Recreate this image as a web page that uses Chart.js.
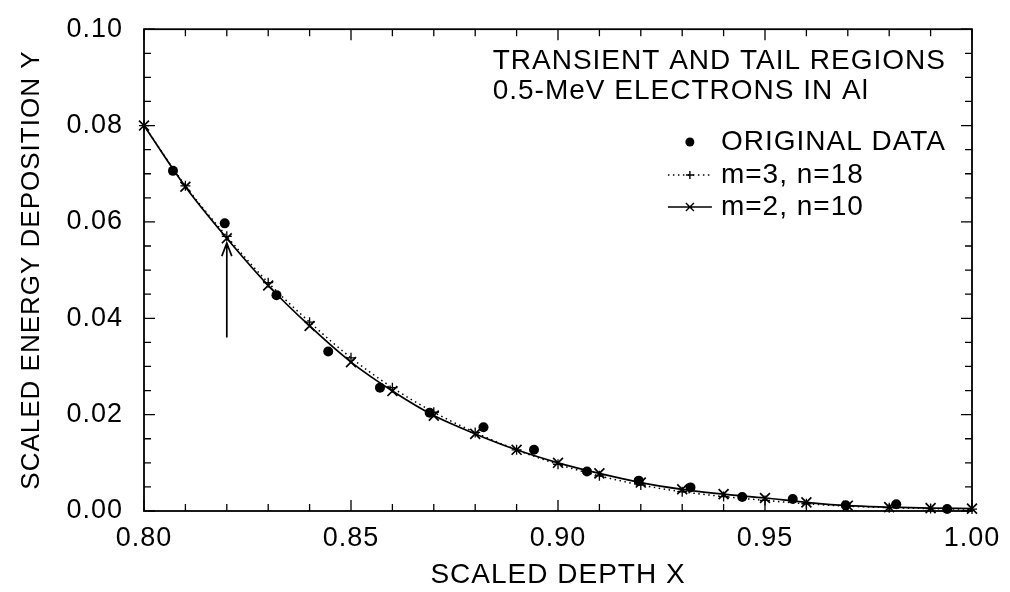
<!DOCTYPE html>
<html><head><meta charset="utf-8">
<script src="https://cdn.jsdelivr.net/npm/chart.js@4/dist/chart.umd.min.js"></script>
<style>html,body{margin:0;padding:0;background:#fff;overflow:hidden}</style>
</head><body>
<canvas id="c" width="1010" height="592"></canvas>
<script>
const FONT = '"Liberation Sans", Arial, Helvetica, sans-serif';

// ---- data ----
const fitX = [0.80,0.81,0.82,0.83,0.84,0.85,0.86,0.87,0.88,0.89,0.90,0.91,0.92,0.93,0.94,0.95,0.96,0.97,0.98,0.99,1.00];
const fitM2N10 = [0.0800,0.0673,0.0566,0.0468,0.0384,0.0309,0.0249,0.0198,0.0160,0.0127,0.0100,0.0078,0.0059,0.0045,0.0035,0.0027,0.0018,0.0011,0.0008,0.0006,0.0005];
const fitM3N18 = [0.0800,0.0675,0.0570,0.0474,0.0392,0.0318,0.0256,0.0205,0.0163,0.0127,0.0097,0.0073,0.0054,0.0040,0.0030,0.0022,0.0015,0.0010,0.0007,0.0005,0.0004];
const origX = [0.807,0.8195,0.832,0.8445,0.857,0.869,0.882,0.8942,0.907,0.9195,0.932,0.9445,0.9567,0.9695,0.9817,0.994];
const origY = [0.0706,0.0597,0.0448,0.0331,0.0256,0.0204,0.0174,0.0127,0.0082,0.0063,0.0049,0.0029,0.0025,0.0012,0.0014,0.0004];

const xTickValues = [0.80,0.85,0.90,0.95,1.00];
const xTickLabels = ['0.80','0.85','0.90','0.95','1.00'];
const yTickValues = [0.00,0.02,0.04,0.06,0.08,0.10];
const yTickLabels = ['0.00','0.02','0.04','0.06','0.08','0.10'];

const seriesNames = ['ORIGINAL DATA','m=3, n=18','m=2, n=10'];
const noteLines = ['TRANSIENT AND TAIL REGIONS','0.5-MeV ELECTRONS IN Al'];
const xTitle = 'SCALED DEPTH X';
const yTitle = 'SCALED ENERGY DEPOSITION Y';
const arrowX = [0.82];
const arrowY = [0.036, 0.0556];

const pts = (xs, ys) => xs.map((x, i) => ({x, y: ys[i]}));

const spacing = {
  id: 'spacing',
  beforeDraw(chart) { try { chart.ctx.letterSpacing = '1px'; } catch (e) {} }
};

const frameAndTicks = {
  id: 'frameAndTicks',
  afterDraw(chart) {
    const {ctx, chartArea: a, scales: {x, y}} = chart;
    ctx.save();
    ctx.strokeStyle = '#000';
    ctx.lineWidth = 1.8;
    ctx.strokeRect(a.left, a.top, a.right - a.left, a.bottom - a.top);
    ctx.lineWidth = 1.3;
    ctx.beginPath();
    for (let i = 0; i <= 20; i++) {
      const v = x.min + i * 0.01;
      const px = x.getPixelForValue(v);
      const L = (i % 5 === 0) ? 11 : 7;
      ctx.moveTo(px, a.bottom); ctx.lineTo(px, a.bottom - L);
      ctx.moveTo(px, a.top); ctx.lineTo(px, a.top + L);
    }
    for (let i = 0; i <= 20; i++) {
      const v = y.min + i * 0.005;
      const py = y.getPixelForValue(v);
      const L = (i % 4 === 0) ? 11 : 7;
      ctx.moveTo(a.left, py); ctx.lineTo(a.left + L, py);
      ctx.moveTo(a.right, py); ctx.lineTo(a.right - L, py);
    }
    ctx.stroke();
    ctx.restore();
  }
};

const notesPlugin = {
  id: 'notes',
  afterDatasetsDraw(chart) {
    const {ctx, scales: {x, y}} = chart;
    ctx.save();
    // arrow
    const ax = x.getPixelForValue(arrowX[0]);
    const y0 = y.getPixelForValue(arrowY[0]);
    const y1 = y.getPixelForValue(arrowY[1]);
    ctx.strokeStyle = '#000';
    ctx.lineWidth = 1.7;
    ctx.beginPath();
    ctx.moveTo(ax, y0); ctx.lineTo(ax, y1);
    ctx.moveTo(ax - 5, y1 + 13); ctx.lineTo(ax, y1); ctx.lineTo(ax + 5, y1 + 13);
    ctx.stroke();

    // note text and legend
    const fs = 28;
    ctx.font = fs + 'px ' + FONT;
    ctx.fillStyle = '#000';
    ctx.textBaseline = 'middle';
    const rightEdge = 946;
    const nx = rightEdge - ctx.measureText(noteLines[0]).width;
    ctx.fillText(noteLines[0], nx, 61);
    ctx.fillText(noteLines[1], nx, 91);

    const tx = rightEdge - ctx.measureText(seriesNames[0]).width;
    const rows = [142, 175, 207];
    const mx = tx - 31;
    // original data
    ctx.beginPath(); ctx.arc(mx, rows[0], 4.5, 0, Math.PI * 2); ctx.fill();
    ctx.fillText(seriesNames[0], tx, rows[0]);
    // m=3 dotted
    ctx.lineWidth = 1.4;
    ctx.setLineDash([1.5, 3.5]);
    ctx.beginPath(); ctx.moveTo(tx - 53, rows[1]); ctx.lineTo(tx - 9, rows[1]); ctx.stroke();
    ctx.setLineDash([]);
    ctx.beginPath();
    ctx.moveTo(mx - 4, rows[1]); ctx.lineTo(mx + 4, rows[1]);
    ctx.moveTo(mx, rows[1] - 4); ctx.lineTo(mx, rows[1] + 4);
    ctx.stroke();
    ctx.fillText(seriesNames[1], tx, rows[1]);
    // m=2 solid
    ctx.beginPath(); ctx.moveTo(tx - 53, rows[2]); ctx.lineTo(tx - 9, rows[2]);
    ctx.moveTo(mx - 4, rows[2] - 4); ctx.lineTo(mx + 4, rows[2] + 4);
    ctx.moveTo(mx - 4, rows[2] + 4); ctx.lineTo(mx + 4, rows[2] - 4);
    ctx.stroke();
    ctx.fillText(seriesNames[2], tx, rows[2]);
    ctx.restore();
  }
};

new Chart(document.getElementById('c'), {
  type: 'scatter',
  data: {
    datasets: [
      {
        label: seriesNames[1], data: pts(fitX, fitM3N18), showLine: true,
        borderColor: '#000', borderWidth: 1.5, borderDash: [1.5, 3.5],
        cubicInterpolationMode: 'monotone',
        pointStyle: 'cross', pointRadius: 5, pointBorderWidth: 1.3,
        pointBorderColor: '#000', pointBackgroundColor: '#000', clip: false
      },
      {
        label: seriesNames[2], data: pts(fitX, fitM2N10), showLine: true,
        borderColor: '#000', borderWidth: 1.7,
        cubicInterpolationMode: 'monotone',
        pointStyle: 'crossRot', pointRadius: 7, pointBorderWidth: 1.7,
        pointBorderColor: '#000', pointBackgroundColor: '#000', clip: false
      },
      {
        label: seriesNames[0], data: pts(origX, origY), showLine: false,
        pointStyle: 'circle', pointRadius: 5, pointBorderWidth: 0,
        pointBackgroundColor: '#000', pointBorderColor: '#000', clip: false
      }
    ]
  },
  options: {
    responsive: false, animation: false, devicePixelRatio: 1,
    layout: {padding: {top: 22, right: 38, left: 0, bottom: 0}},
    plugins: {legend: {display: false}, tooltip: {enabled: false}},
    scales: {
      x: {
        type: 'linear', min: 0.8, max: 1.0,
        grid: {display: false}, border: {display: false},
        afterBuildTicks: s => { s.ticks = xTickValues.map(v => ({value: v})); },
        afterFit: s => { s.height = 81; },
        ticks: {
          color: '#000', font: {family: FONT, size: 27}, padding: 3, maxRotation: 0,
          callback: (v) => { const i = xTickValues.findIndex(t => Math.abs(t - v) < 1e-9); return i >= 0 ? xTickLabels[i] : ''; }
        },
        title: {display: true, text: xTitle, color: '#000', font: {family: FONT, size: 28}, padding: {top: 0, bottom: 0}}
      },
      y: {
        type: 'linear', min: 0, max: 0.1,
        grid: {display: false}, border: {display: false},
        afterBuildTicks: s => { s.ticks = yTickValues.map(v => ({value: v})); },
        afterFit: s => { s.width = 144; },
        ticks: {
          color: '#000', font: {family: FONT, size: 27}, padding: 13,
          callback: (v) => { const i = yTickValues.findIndex(t => Math.abs(t - v) < 1e-9); return i >= 0 ? yTickLabels[i] : ''; }
        },
        title: {display: true, text: yTitle, color: '#000', font: {family: FONT, size: 26}, padding: {top: 16, bottom: 0}}
      }
    }
  },
  plugins: [spacing, frameAndTicks, notesPlugin]
});
</script>
</body></html>
